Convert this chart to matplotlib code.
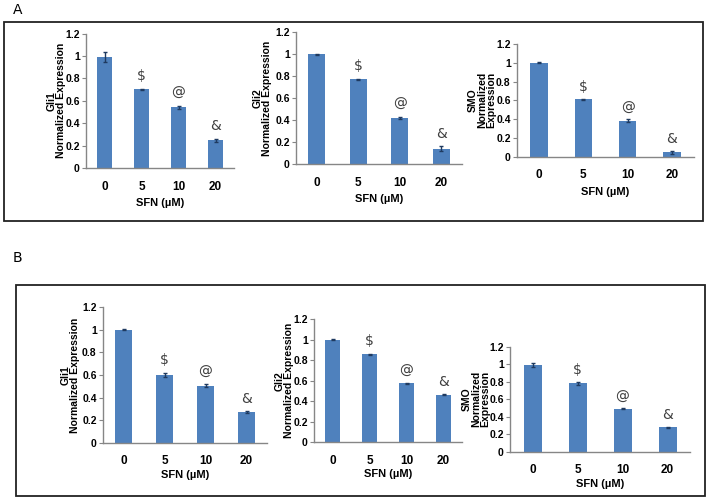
import matplotlib
matplotlib.use("Agg")
import matplotlib.pyplot as plt
from matplotlib.patches import Rectangle

plt.rcParams['font.family'] = ['Liberation Sans Narrow', 'Liberation Sans', 'DejaVu Sans']

categories = ["0", "5", "10", "20"]
yticks = [0, 0.2, 0.4, 0.6, 0.8, 1, 1.2]
ytick_labels = ["0", "0.2", "0.4", "0.6", "0.8", "1", "1.2"]
markers = ["", "$", "@", "&"]

a_gli1 = [0.99, 0.705, 0.543, 0.248]
a_gli1_err = [0.045, 0.005, 0.012, 0.015]
a_gli2 = [1.0, 0.77, 0.42, 0.14]
a_gli2_err = [0.005, 0.005, 0.01, 0.02]
a_smo = [1.0, 0.61, 0.385, 0.045]
a_smo_err = [0.005, 0.008, 0.012, 0.015]

b_gli1 = [1.0, 0.60, 0.505, 0.27]
b_gli1_err = [0.004, 0.02, 0.012, 0.008]
b_gli2 = [1.0, 0.86, 0.575, 0.46]
b_gli2_err = [0.005, 0.005, 0.005, 0.005]
b_smo = [0.99, 0.78, 0.49, 0.28]
b_smo_err = [0.02, 0.02, 0.006, 0.006]

ylabels = ["Gli1\nNormalized Expression", "Gli2\nNormalized Expression",
           "SMO\nNormalized\nExpression"]
xlabel = "SFN (\u00b5M)"

W, H = 708, 501
fig = plt.figure(figsize=(W / 100, H / 100), dpi=100)

def px_axes(x0, x1, ytop, ybot):
    return fig.add_axes([x0 / W, 1 - ybot / H, (x1 - x0) / W, (ybot - ytop) / H])

BAR = "#4F81BD"
AXC = "#868686"

def panel(rect, vals, errs, ylabel, ylab_center_px, xlabpad):
    x0, x1, ytop, ybot = rect
    ax = px_axes(*rect)
    x = range(len(categories))
    ax.bar(x, vals, width=0.4, color=BAR, yerr=errs, capsize=1.5,
           error_kw=dict(ecolor="#1F3A60", elinewidth=1, capthick=1))
    ax.set_xlim(-0.5, 3.5)
    ax.set_ylim(0, 1.2)
    ax.set_yticks(yticks)
    ax.set_yticklabels(ytick_labels, fontsize=7.5, fontweight="bold")
    ax.set_xticks(list(x))
    ax.set_xticklabels(categories, fontsize=8.5, fontweight="bold")
    ax.tick_params(axis="x", length=0, pad=9)
    ax.tick_params(axis="y", length=3, color=AXC, pad=1.5)
    for s in ("top", "right"):
        ax.spines[s].set_visible(False)
    for s in ("left", "bottom"):
        ax.spines[s].set_color(AXC)
        ax.spines[s].set_linewidth(1)
    ax.set_facecolor("none")
    ax.set_ylabel(ylabel, fontsize=7.5, fontweight="bold", linespacing=0.9)
    ax.yaxis.label.set_verticalalignment("center")
    ax.yaxis.set_label_coords((ylab_center_px - x0) / (x1 - x0), 0.5)
    ax.set_xlabel(xlabel, fontsize=8, fontweight="bold", labelpad=xlabpad)
    for i, m in enumerate(markers):
        if m:
            ax.text(i, vals[i] + errs[i] + 0.05, m, ha="center", va="bottom",
                    fontsize=10, color="#404040", family="DejaVu Sans")
    return ax

panel((86, 234, 33.7, 168), a_gli1, a_gli1_err, ylabels[0], 56, 4)
panel((296, 462, 32.3, 164), a_gli2, a_gli2_err, ylabels[1], 262, 4)
panel((517, 694, 44, 156.7), a_smo, a_smo_err, ylabels[2], 482, 4)
panel((103, 267, 307.3, 442.7), b_gli1, b_gli1_err, ylabels[0], 70, 2)
panel((314, 462, 319.3, 442), b_gli2, b_gli2_err, ylabels[1], 284, 2)
panel((510, 690, 346.7, 451.7), b_smo, b_smo_err, ylabels[2], 476, 2)

def box(x0, y0, x1, y1):
    fig.add_artist(Rectangle((x0 / W, 1 - y1 / H), (x1 - x0) / W, (y1 - y0) / H,
                             transform=fig.transFigure, fill=False,
                             edgecolor="#222222", linewidth=1.3))

box(4, 22, 703, 221)
box(16, 285, 705, 496)

fig.text(13 / W, 1 - 10 / H, "A", fontsize=10, va="center", ha="left",
         family="DejaVu Sans")
fig.text(13 / W, 1 - 258 / H, "B", fontsize=10, va="center", ha="left",
         family="DejaVu Sans")

fig.savefig("out.png", dpi=100)
